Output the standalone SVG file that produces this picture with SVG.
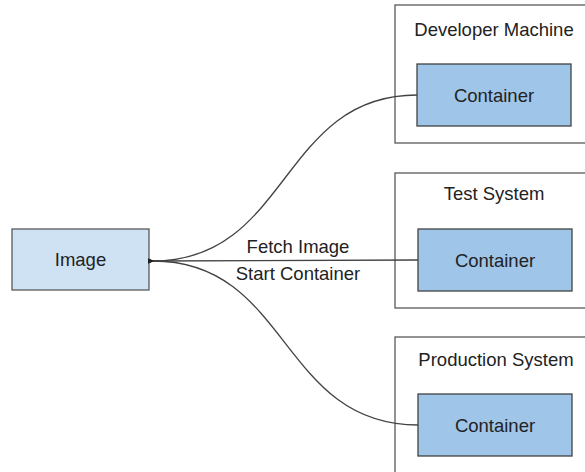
<svg xmlns="http://www.w3.org/2000/svg" width="585" height="472" viewBox="0 0 585 472">
<style>
text{font-family:"Liberation Sans",Arial,sans-serif;font-size:18.5px;fill:#222;text-anchor:middle}
.outer{fill:#fff;stroke:#595959;stroke-width:1.3}
.cont{fill:#9fc5e8;stroke:#434343;stroke-width:1.3}
.img{fill:#cfe2f3;stroke:#595959;stroke-width:1.3}
.conn{fill:none;stroke:#434343;stroke-width:1.3}
</style>
<defs>
<marker id="ah" viewBox="0 0 10 10" refX="2" refY="5" markerWidth="6" markerHeight="6" orient="auto-start-reverse" markerUnits="userSpaceOnUse">
<path d="M0,5 L10,1 L10,9 Z" fill="#222"/>
</marker>
</defs>
<rect width="585" height="472" fill="#fff"/>
<g id="dev-machine"><rect class="outer" x="395" y="5" width="200" height="138"/><text x="494" y="36">Developer Machine</text></g>
<g id="test-system"><rect class="outer" x="395" y="173" width="200" height="135"/><text x="494" y="200">Test System</text></g>
<g id="prod-system"><rect class="outer" x="395" y="337" width="200" height="150"/><text x="496" y="366">Production System</text></g>
<g id="image"><rect class="img" x="12" y="229" width="137" height="61"/><text x="80.5" y="266">Image</text></g>
<g id="container-dev"><rect class="cont" x="417" y="64" width="154" height="62"/><text x="494" y="102">Container</text></g>
<g id="container-test"><rect class="cont" x="418" y="229" width="154" height="62"/><text x="495" y="267">Container</text></g>
<g id="container-prod"><rect class="cont" x="418" y="394" width="154" height="62"/><text x="495" y="432">Container</text></g>
<g id="connectors">
<path class="conn" marker-start="url(#ah)" d="M153,261 C290,261 280,95 417,95"/>
<path class="conn" marker-start="url(#ah)" d="M153,261 L418,260"/>
<path class="conn" marker-start="url(#ah)" d="M153,261 C290,261 280,425 418,425"/>
<text x="298" y="253">Fetch Image</text>
<text x="298" y="280">Start Container</text>
</g>
</svg>
